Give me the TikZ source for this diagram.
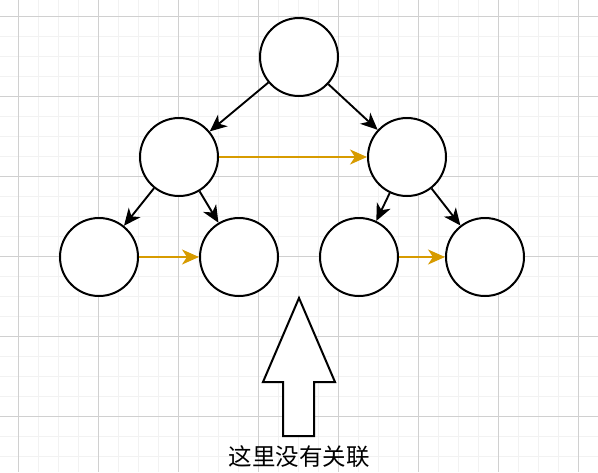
\documentclass[tikz,border=0pt]{standalone}
\usepackage{fontspec}
\newfontfamily\cjkfont{Noto Sans CJK SC}
\usetikzlibrary{arrows.meta}
\definecolor{gridminor}{HTML}{F2F2F2}
\definecolor{gridmajor}{HTML}{D0D0D0}
\definecolor{linkorange}{HTML}{D79B00}
\begin{document}
\begin{tikzpicture}[x=1pt,y=-1pt,
  treenode/.style={circle,draw=black,fill=white,line width=2pt,minimum size=78pt,inner sep=0pt},
  childedge/.style={draw=black,line width=1.9pt,-{Stealth[length=17pt,width=15pt,inset=5pt]}},
  siblingedge/.style={draw=linkorange,line width=1.9pt,-{Stealth[length=17pt,width=15pt,inset=5pt]}},
  bigarrow/.style={draw=black,fill=white,line width=2pt,line join=miter}
]
\useasboundingbox (0,0) rectangle (598,472);
\fill[white] (0,0) rectangle (598,472);
% background grid
\foreach \gx in {-2,18,...,598} \draw[gridminor,line width=0.8pt] (\gx,0) -- (\gx,472);
\foreach \gy in {-4,16,...,472} \draw[gridminor,line width=0.8pt] (0,\gy) -- (598,\gy);
\foreach \gx in {18,98,...,598} \draw[gridmajor,line width=0.8pt] (\gx,0) -- (\gx,472);
\foreach \gy in {16,96,...,472} \draw[gridmajor,line width=0.8pt] (0,\gy) -- (598,\gy);

% tree nodes
\node[treenode] (root) at (299,57) {};
\node[treenode] (l)  at (179,157) {};
\node[treenode] (r)  at (407,157) {};
\node[treenode] (ll) at (99,257) {};
\node[treenode] (lr) at (239,257) {};
\node[treenode] (rl) at (359,257) {};
\node[treenode] (rr) at (485,257) {};

% parent-child edges
\draw[childedge] (root) -- (l);
\draw[childedge] (root) -- (r);
\draw[childedge] (l) -- (ll);
\draw[childedge] (l) -- (lr);
\draw[childedge] (r) -- (rl);
\draw[childedge] (r) -- (rr);

% sibling links
\draw[siblingedge] (l) -- (r);
\draw[siblingedge] (ll) -- (lr);
\draw[siblingedge] (rl) -- (rr);

% hollow pointer arrow and caption
\draw[bigarrow] (299,298) -- (335,382) -- (314,382) -- (314,436) -- (283,436) -- (283,382) -- (263,382) -- cycle;
\node[font=\cjkfont\fontsize{23.5}{26}\selectfont,inner sep=0pt] (caption) at (299,457) {这里没有关联};
\end{tikzpicture}
\end{document}
